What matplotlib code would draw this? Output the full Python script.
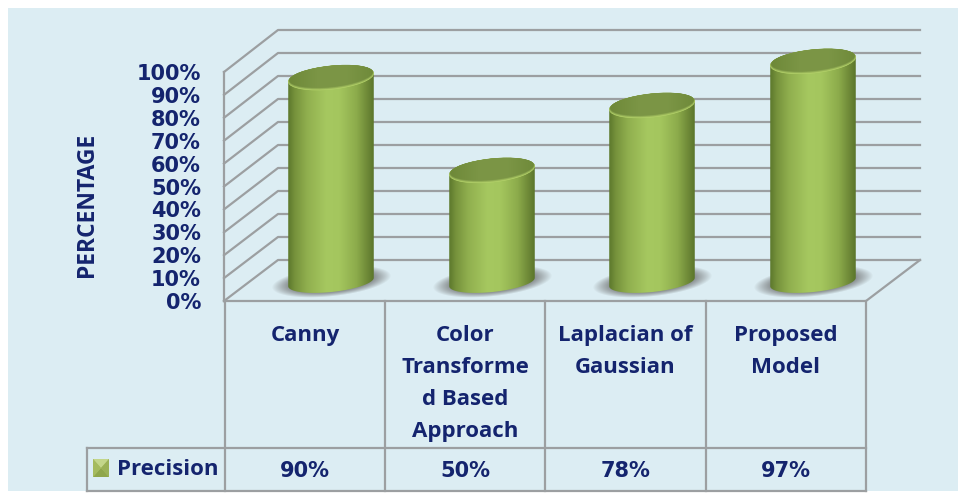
import numpy as np
import matplotlib
matplotlib.use("Agg")
import matplotlib.pyplot as plt
from matplotlib.colors import LinearSegmentedColormap, to_rgb
from matplotlib.patches import Ellipse, PathPatch, Rectangle, Polygon
from matplotlib.path import Path

# data
categories = ["Canny", "Color\nTransforme\nd Based\nApproach", "Laplacian of\nGaussian", "Proposed\nModel"]
precision = [90, 50, 78, 97]
value_labels = ["90%", "50%", "78%", "97%"]
tick_values = [0, 10, 20, 30, 40, 50, 60, 70, 80, 90, 100]
series_name = "Precision"

navy = "#14246e"
grid_col = "#9c9fa1"
panel = "#dcedf3"
plt.rcParams['font.family'] = ['Open Sans', 'DejaVu Sans']

fig = plt.figure(figsize=(9.58, 4.94), dpi=100, facecolor="white")
ax = fig.add_axes([0, 0, 1, 1])
ax.set_xlim(0, 958)
ax.set_ylim(494, 0)
ax.axis("off")

ax.add_patch(Rectangle((8, 8), 950, 483, fc=panel, ec="none", zorder=0))


# value to pixel on the front plane, back plane and cylinder plane
def front_y(v):
    return 301 - v * 2.29


def back_y(v):
    return 260 - v * 2.30


def bar_y(v):
    return 286 - v * 2.32


# walls
for v in tick_values:
    ax.plot([224, 278, 920], [front_y(v), back_y(v), back_y(v)], color=grid_col, lw=1.6, zorder=1)
    ax.text(201, front_y(v) + 2, f"{v}%", ha="right", va="center", fontsize=15,
            fontweight="bold", color=navy, zorder=5, family="DejaVu Sans")
ax.plot([224, 224], [front_y(0), front_y(100)], color=grid_col, lw=1.6, zorder=1)
ax.plot([224, 866, 920], [301, 301, 260], color=grid_col, lw=1.6, zorder=1)

ax.text(87, 205, "PERCENTAGE", rotation=90, ha="center", va="center", fontsize=16.5,
        fontweight="bold", color=navy)

# table
col_edges = [225, 385, 545, 706, 866]
ax.plot([87, 866], [448, 448], color=grid_col, lw=1.6, zorder=1)
ax.plot([87, 866], [491, 491], color=grid_col, lw=1.6, zorder=1)
ax.plot([87, 87], [448, 491], color=grid_col, lw=1.6, zorder=1)
for x in col_edges:
    ax.plot([x, x], [301, 491], color=grid_col, lw=1.6, zorder=1)

for i, cat in enumerate(categories):
    cx = (col_edges[i] + col_edges[i + 1]) / 2
    ax.text(cx, 325, cat, ha="center", va="top", fontsize=16, fontweight="bold",
            color=navy, linespacing=1.68)
    ax.text(cx, 471, value_labels[i], ha="center", va="center", fontsize=15,
            fontweight="bold", color=navy, family="DejaVu Sans")

ax.text(117, 469, series_name, ha="left", va="center", fontsize=16, fontweight="bold", color=navy)

# legend key, small bevelled square
kx0, kx1, ky0, ky1 = 93, 109, 459, 477
kmx, kmy = (kx0 + kx1) / 2, (ky0 + ky1) / 2
ax.add_patch(Rectangle((kx0, ky0), kx1 - kx0, ky1 - ky0, fc="#a9c163", ec="none", zorder=3))
ax.add_patch(Polygon([(kx0, ky0), (kx1, ky0), (kmx, kmy)], fc="#c3d68a", ec="none", zorder=4))
ax.add_patch(Polygon([(kx0, ky1), (kx1, ky1), (kmx, kmy)], fc="#8fa64b", ec="none", zorder=4))
ax.add_patch(Polygon([(kx0, ky0), (kx0, ky1), (kmx, kmy)], fc="#a5bb5e", ec="none", zorder=4))
ax.add_patch(Polygon([(kx1, ky0), (kx1, ky1), (kmx, kmy)], fc="#9ab156", ec="none", zorder=4))

# cylinders
body_cmap = LinearSegmentedColormap.from_list(
    "body", [(0, "#5c782c"), (0.08, "#76923c"), (0.22, "#90af4e"), (0.45, "#a6c860"),
             (0.6, "#a4c65e"), (0.8, "#8cab4b"), (0.92, "#6f8a38"), (1, "#5a752b")])
cap_cmap = LinearSegmentedColormap.from_list("cap", ["#6d8838", "#7b9545", "#7c9646", "#6f8a3a"])
centers = [331, 492, 652, 813]
half_w = 43
grad = np.linspace(0, 1, 256).reshape(1, -1)
tilt = np.deg2rad(-6)


def ellipse_pts(cx, cy, w, h, t0, t1):
    t = np.linspace(t0, t1, 60)
    x = w * np.cos(t)
    y = h * np.sin(t)
    return cx + x * np.cos(tilt) - y * np.sin(tilt), cy + x * np.sin(tilt) + y * np.cos(tilt)


for cx, v in zip(centers, precision):
    base = 282
    top = bar_y(v)
    # shadow, tilted soft ellipse
    yy, xx = np.mgrid[256:304, cx - 72:cx + 74]
    dx, dy = xx - cx, yy - 281
    u = dx * np.cos(tilt) + dy * np.sin(tilt)
    w = -dx * np.sin(tilt) + dy * np.cos(tilt)
    d = (u / 60) ** 2 + (w / 15) ** 2
    shade = np.zeros(d.shape + (4,))
    shade[..., :3] = 0.38
    shade[..., 3] = np.clip((1 - d) * 1.3, 0, 0.7)
    ax.imshow(shade, extent=(cx - 72, cx + 74, 304, 256), aspect="auto", zorder=2, interpolation="bilinear")

    # body: gradient clipped to the cylinder outline
    bx, by = ellipse_pts(cx, base, half_w, 10, np.pi, 0)
    tx, ty = ellipse_pts(cx, top, half_w, 11.5, 0, -np.pi)
    outline = np.column_stack([np.r_[bx, tx], np.r_[by, ty]])
    im = ax.imshow(grad, cmap=body_cmap, extent=(cx - half_w, cx + half_w, 300, top - 15),
                   aspect="auto", zorder=3)
    clip = PathPatch(Path(outline), transform=ax.transData, fc="none", ec="none")
    ax.add_patch(clip)
    im.set_clip_path(clip)

    # cap: soft rim fading from bright front edge into the dark top
    rim = np.array(to_rgb("#b4d36a"))
    dark = np.array(to_rgb("#7b9545"))
    for k in np.linspace(0, 1, 8):
        col = rim * (1 - k) + dark * k
        ax.add_patch(Ellipse((cx, top + 0.6 - 1.4 * k), 2 * half_w - 2 * k, 23.5 - 2.5 * k, angle=-6,
                             fc=col, ec="none", zorder=4))
    cap_im = ax.imshow(grad, cmap=cap_cmap, extent=(cx - half_w, cx + half_w, top + 14, top - 14),
                       aspect="auto", zorder=5)
    cap = Ellipse((cx, top - 1), 2 * half_w - 2, 21, angle=-6, transform=ax.transData, fc="none", ec="none")
    ax.add_patch(cap)
    cap_im.set_clip_path(cap)

ax.set_xlim(0, 958)
ax.set_ylim(494, 0)
fig.savefig("out.png", dpi=100)
